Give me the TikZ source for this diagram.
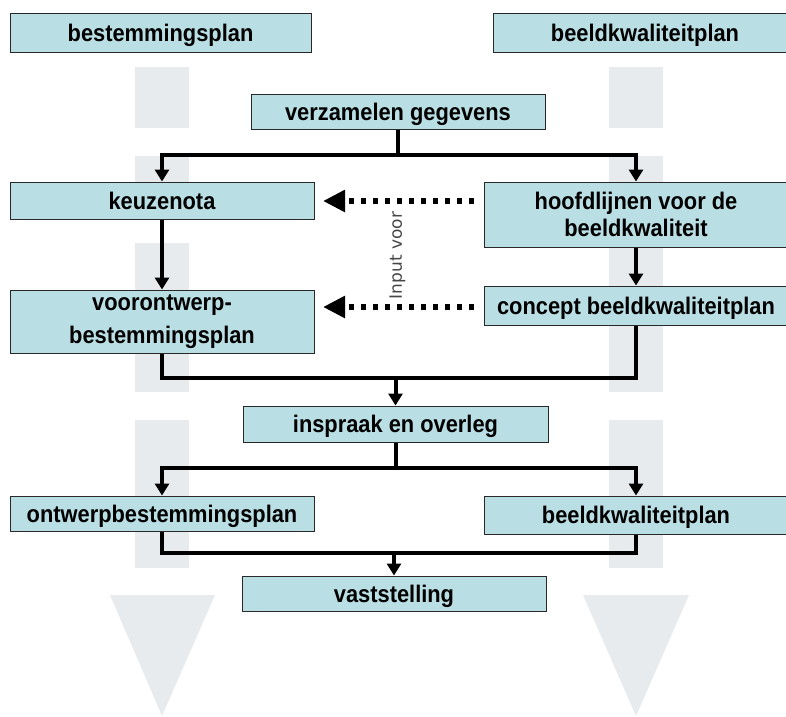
\documentclass[tikz,border=0pt]{standalone}
\usepackage{fontspec}
\setmainfont[FakeStretch=0.91]{Liberation Sans}
\newfontfamily\inputfont{DejaVu Sans}
\usetikzlibrary{arrows.meta,calc}
\definecolor{boxfill}{RGB}{185,222,227}
\definecolor{boxline}{RGB}{40,40,40}
\definecolor{stripgrey}{RGB}{231,235,238}
\definecolor{labelgrey}{RGB}{70,70,70}
\begin{document}
\begin{tikzpicture}[x=1pt,y=-1pt,
  box/.style={draw=boxline,line width=1pt,fill=boxfill,rectangle,inner sep=0pt,
    align=center,font=\fontsize{24}{29}\selectfont\bfseries},
  onebox/.style={box,text height=17.2pt,text depth=0pt},
  conn/.style={draw=black,line width=4pt,line join=miter},
  connarrow/.style={conn,-{Triangle[width=14pt,length=12pt]}},
  dotarrow/.style={draw=black,line width=6pt,dash pattern=on 5pt off 7pt,
    -{Triangle[width=21pt,length=22pt]}},
  strip/.style={fill=stripgrey,draw=none}]
\useasboundingbox (0,0) rectangle (786,716);
\clip (0,0) rectangle (786,716);
% background strips
\foreach \xa/\xb in {135/189,609/663}{
  \fill[stripgrey] (\xa,67) rectangle (\xb,128);
  \fill[stripgrey] (\xa,156) rectangle (\xb,215);
  \fill[stripgrey] (\xa,243) rectangle (\xb,392);
  \fill[stripgrey] (\xa,420) rectangle (\xb,568);
}
\fill[stripgrey] (110,595) -- (215,595) -- (162,716) -- cycle;
\fill[stripgrey] (583,595) -- (689,595) -- (636,716) -- cycle;
% boxes
\node[onebox,minimum width=301pt,minimum height=39pt] (bp) at (160.5,32.5) {bestemmingsplan};
\node[onebox,minimum width=304pt,minimum height=39pt] (bk) at (645,32.5) {beeldkwaliteitplan};
\node[onebox,minimum width=294pt,minimum height=35pt] (vg) at (398,111.5) {verzamelen gegevens};
\node[onebox,minimum width=304pt,minimum height=37pt] (kz) at (162,200.5) {keuzenota};
\node[box,minimum width=304pt,minimum height=65pt,font=\fontsize{24}{27}\selectfont\bfseries] (hl) at (636,214.5) {hoofdlijnen voor de\\beeldkwaliteit};
\node[box,minimum width=304pt,minimum height=63pt,font=\fontsize{24}{33}\selectfont\bfseries] (vo) at (162,321.5) {voorontwerp-\\bestemmingsplan};
\node[onebox,minimum width=304pt,minimum height=39pt] (cb) at (636,305.5) {concept beeldkwaliteitplan};
\node[onebox,minimum width=305pt,minimum height=36pt] (io) at (395.5,424) {inspraak en overleg};
\node[onebox,minimum width=304pt,minimum height=35pt] (ob) at (162,513.5) {ontwerpbestemmingsplan};
\node[onebox,minimum width=304pt,minimum height=38pt] (bk2) at (636,515) {beeldkwaliteitplan};
\node[onebox,minimum width=304pt,minimum height=35pt] (vs) at (394,593.5) {vaststelling};
% junctions
\coordinate (j1) at (398,155);
\coordinate (j2) at (395.5,378);
\coordinate (j3) at (395.5,468);
\coordinate (j4) at (394,553);
% connectors
\draw[conn] (vg.south) -- (j1);
\draw[connarrow] (j1) -| (kz.north);
\draw[connarrow] (j1) -| (hl.north);
\draw[connarrow] (kz.south) -- (vo.north);
\draw[connarrow] (hl.south) -- (cb.north);
\draw[conn] (vo.south) -- (vo.south |- j2) -- (cb.south |- j2) -- (cb.south);
\draw[connarrow] (j2) -- (io.north);
\draw[conn] (io.south) -- (j3);
\draw[connarrow] (j3) -| (ob.north);
\draw[connarrow] (j3) -| (bk2.north);
\draw[conn] (ob.south) -- (ob.south |- j4) -- (bk2.south |- j4) -- (bk2.south);
\draw[connarrow] (j4) -- (vs.north);
% dotted input arrows
\coordinate (d1s) at (474,201);
\coordinate (d1e) at (323,201);
\coordinate (d2s) at (474,307);
\coordinate (d2e) at (323,307);
\draw[dotarrow] (d1s) -- (d1e);
\draw[dotarrow] (d2s) -- (d2e);
\node[rotate=90,text=labelgrey,font=\inputfont\fontsize{17}{20}\selectfont,inner sep=0pt] (iv) at (397.5,255.5) {Input voor};
\end{tikzpicture}
\end{document}
